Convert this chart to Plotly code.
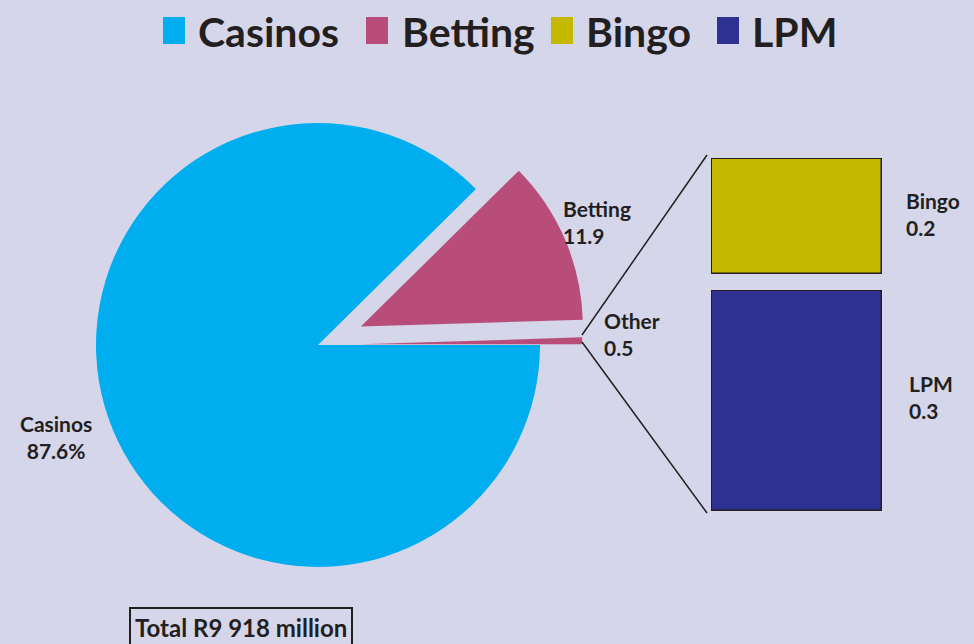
import plotly.graph_objects as go

# ---- data ----
pie_labels = ["Casinos", "Betting", "Other"]
pie_values = [87.6, 11.9, 0.5]
pie_pull = [0, 0.21, 0.19]
pie_colors = ["#00aeef", "#b84d79", "#b84d79"]

other_labels = ["Bingo", "LPM"]
other_values = [0.2, 0.3]
other_colors = ["#c5b900", "#2e3192"]

legend_labels = ["Casinos", "Betting", "Bingo", "LPM"]
legend_colors = ["#00aeef", "#b84d79", "#c5b900", "#2e3192"]

total_text = "Total R9 918 million"

W, H = 974, 644
BG = "#d5d6ea"
TXT = "#231f20"
FONT = "Lato"

def px(x):
    return x / W

def py(y):
    return 1 - y / H

fig = go.Figure()

# pie: centre (318,345), radius 222 px, max pull 0.21
r = 222
half = r * (1 + max(pie_pull))
cx, cy = 318, 345
fig.add_trace(go.Pie(
    labels=pie_labels, values=pie_values, pull=pie_pull,
    marker=dict(colors=pie_colors, line=dict(width=0)),
    sort=False, direction="clockwise", rotation=90,
    textinfo="none", showlegend=False,
    domain=dict(x=[px(cx - half), px(cx + half)], y=[py(cy + half), py(cy - half)]),
))

# breakdown of "Other" as two bars
bar_boxes = {"Bingo": (158, 274), "LPM": (290, 511)}
for i, (lab, val, col) in enumerate(zip(other_labels, other_values, other_colors)):
    k = i + 2
    fig.add_trace(go.Bar(
        x=[lab], y=[val], width=[1], marker=dict(color=col, line=dict(color=TXT, width=2.5)),
        xaxis=f"x{k}", yaxis=f"y{k}", showlegend=False,
    ))
    top, bot = bar_boxes[lab]
    fig.layout[f"xaxis{k}"] = dict(domain=[px(711), px(882)], visible=False,
                                    range=[-0.5, 0.5], anchor=f"y{k}")
    fig.layout[f"yaxis{k}"] = dict(domain=[py(bot), py(top)], visible=False,
                                    range=[0, val], anchor=f"x{k}")

annotations = []
shapes = []

# manual legend
leg_sq_x = [163, 366, 551, 717]
leg_tx_x = [196, 400, 584, 750]
for lab, col, sx, tx in zip(legend_labels, legend_colors, leg_sq_x, leg_tx_x):
    shapes.append(dict(type="rect", xref="paper", yref="paper",
                       x0=px(sx), x1=px(sx + 22), y0=py(44), y1=py(17),
                       fillcolor=col, line=dict(width=0)))
    annotations.append(dict(text=f"<b>{lab}</b>", x=px(tx), y=py(31), xref="paper", yref="paper",
                            xanchor="left", yanchor="middle", showarrow=False,
                            font=dict(size=41, color=TXT, family=FONT)))

# slice & bar labels
labels = [
    (f"{pie_labels[0]}<br>{pie_values[0]}%", 56, 437, "center"),
    (f"{pie_labels[1]}<br>{pie_values[1]}", 561, 222, "left"),
    (f"{pie_labels[2]}<br>{pie_values[2]}", 602, 334, "left"),
    (f"{other_labels[0]}<br>{other_values[0]}", 904, 214, "left"),
    (f"{other_labels[1]}<br>{other_values[1]}", 907, 397, "left"),
]
for txt, x, y, al in labels:
    annotations.append(dict(text=f"<b>{txt}</b>", x=px(x), y=py(y), xref="paper", yref="paper",
                            xanchor="center" if al == "center" else "left", yanchor="middle",
                            align=al, showarrow=False,
                            font=dict(size=21, color=TXT, family=FONT)))

# total box
annotations.append(dict(text=f"<b>{total_text}</b>", x=px(241), y=py(627), xref="paper", yref="paper",
                        xanchor="center", yanchor="middle", showarrow=False,
                        bordercolor=TXT, borderwidth=2, borderpad=4,
                        font=dict(size=24, color=TXT, family=FONT)))

# connector lines
for (x0, y0, x1, y1) in [(582, 335, 707, 155), (582, 342, 707, 513)]:
    shapes.append(dict(type="line", xref="paper", yref="paper",
                       x0=px(x0), y0=py(y0), x1=px(x1), y1=py(y1),
                       line=dict(color=TXT, width=1.5)))

fig.update_layout(
    width=W, height=H, margin=dict(l=0, r=0, t=0, b=0),
    paper_bgcolor=BG, plot_bgcolor=BG,
    annotations=annotations, shapes=shapes, showlegend=False,
    bargap=0,
)

fig.write_html("out.html", config={"displayModeBar": False},
               post_script="document.body.style.margin='0';document.body.style.overflow='hidden';")
